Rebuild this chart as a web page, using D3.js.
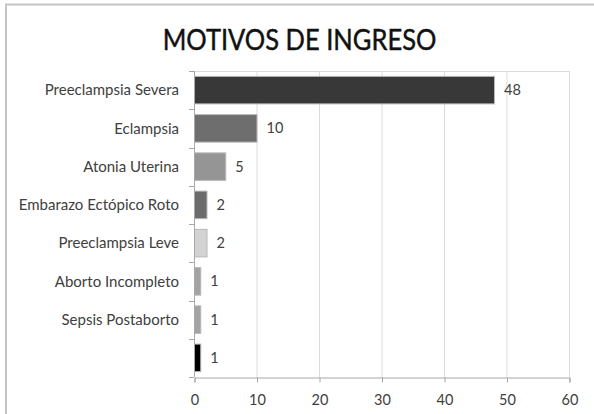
<!DOCTYPE html>
<html><head><meta charset="utf-8">
<script src="https://cdn.jsdelivr.net/npm/d3@7"></script>
<style>body{margin:0;background:#fff}svg{display:block}</style>
</head><body>
<svg id="c" width="594" height="414"></svg>
<script>
const categories = ["Preeclampsia Severa","Eclampsia","Atonia Uterina","Embarazo Ectópico Roto","Preeclampsia Leve","Aborto Incompleto","Sepsis Postaborto",""];
const values = [48,10,5,2,2,1,1,1];
const barColors = ["#383838","#6e6e6e","#959595","#6b6b6b","#d3d3d3","#a3a3a3","#a3a3a3","#000000"];
const xTicks = [0,10,20,30,40,50,60];
const title = "MOTIVOS DE INGRESO";

const FONT = "Lato, 'Open Sans', sans-serif";
const svg = d3.select("#c");
const m = {left:194, right:570, top:71, bottom:377};
const x = d3.scaleLinear().domain([0,60]).range([m.left, m.right-1]);
const y = d3.scaleBand().domain(d3.range(categories.length)).range([m.top, m.bottom]).paddingInner(0.28).paddingOuter(0.14);

// outer border
svg.append("path").attr("d","M6,414 V4.5 H594").attr("fill","none").attr("stroke","#c4c4c4").attr("stroke-width",2);

// title
svg.append("text").attr("transform","translate(299.5,49.5) scale(1,1.1)").attr("text-anchor","middle")
  .attr("font-family",FONT).attr("font-size",25.5).attr("fill","#111").attr("stroke","#111").attr("stroke-width",0.4)
  .text(title);

// gridlines
svg.append("g").selectAll("line").data(xTicks).join("line")
  .attr("x1",d=>x(d)+0.5).attr("x2",d=>x(d)+0.5).attr("y1",m.top).attr("y2",m.bottom)
  .attr("stroke","#dcdcdc").attr("stroke-width",1);
svg.append("line").attr("x1",m.left).attr("x2",x(60)+0.5).attr("y1",m.top+0.5).attr("y2",m.top+0.5).attr("stroke","#dcdcdc");

// bars
svg.append("g").selectAll("rect").data(values).join("rect")
  .attr("x",x(0)+0.5).attr("y",(d,i)=>y(i)).attr("width",d=>x(d)-x(0)).attr("height",y.bandwidth())
  .attr("fill",(d,i)=>barColors[i]).attr("stroke","#b8b8b8").attr("stroke-width",1);

// value labels
svg.append("g").selectAll("text").data(values).join("text")
  .attr("x",d=>x(d)+10).attr("y",(d,i)=>y(i)+y.bandwidth()/2).attr("dy","0.35em")
  .attr("font-family",FONT).attr("font-size",14.5).attr("fill","#404040")
  .text(d=>d);

// x axis
const xAxis = d3.axisBottom(x).tickValues(xTicks).tickSize(5).tickPadding(12);
const gx = svg.append("g").attr("transform",`translate(0.5,${m.bottom+0.5})`).call(xAxis);
gx.select(".domain").attr("stroke","#a8a8a8");
gx.selectAll(".tick line").attr("stroke","#a8a8a8");
gx.selectAll("text").attr("font-family",FONT).attr("font-size",14.5).attr("fill","#404040");

// y axis
svg.append("line").attr("x1",m.left+0.5).attr("x2",m.left+0.5).attr("y1",m.top).attr("y2",m.bottom).attr("stroke","#a8a8a8");
const bounds = d3.range(categories.length+1).map(i=>m.top + (m.bottom-m.top)*i/categories.length);
svg.append("g").selectAll("line").data(bounds).join("line")
  .attr("x1",m.left-5).attr("x2",m.left).attr("y1",d=>Math.round(d)+0.5).attr("y2",d=>Math.round(d)+0.5).attr("stroke","#a8a8a8");
svg.append("g").selectAll("text").data(categories).join("text")
  .attr("x",179).attr("y",(d,i)=>y(i)+y.bandwidth()/2).attr("dy","0.35em").attr("text-anchor","end")
  .attr("font-family",FONT).attr("font-size",15).attr("fill","#404040")
  .text(d=>d);
</script>
</body></html>
